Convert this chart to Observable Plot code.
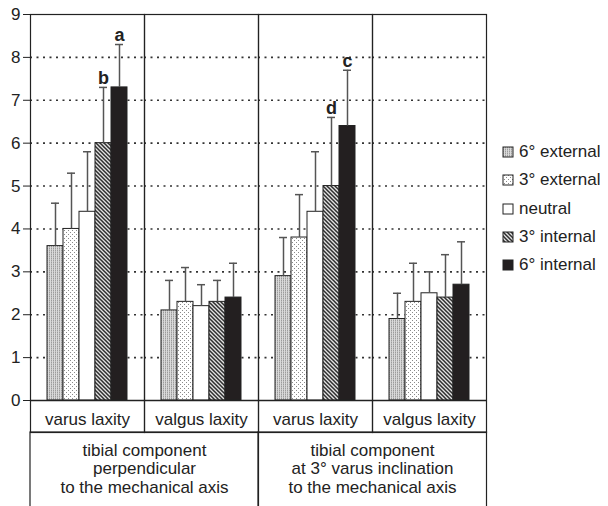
<!DOCTYPE html>
<html>
<head>
<meta charset="utf-8">
<script src="https://cdn.jsdelivr.net/npm/d3@7"></script>
<script src="https://cdn.jsdelivr.net/npm/@observablehq/plot@0.6"></script>
<style>
  body { margin: 0; background: #fff; }
  #wrap { position: relative; width: 608px; height: 506px; overflow: hidden; background: #fff;
          font-family: 'Liberation Sans', Arial, sans-serif; }
  #chart { position: absolute; left: 0; top: 0; }
  #legend { position: absolute; left: 503px; top: 138px; }
</style>
</head>
<body>
<svg width="0" height="0" style="position:absolute">
  <defs>
    <pattern id="pat-ext6" patternUnits="userSpaceOnUse" width="2" height="2">
      <rect width="2" height="2" fill="#dadada"/>
      <rect x="0" y="0" width="1" height="1" fill="#9c9c9c"/>
      <rect x="0" y="1" width="1" height="1" fill="#bcbcbc"/>
    </pattern>
    <pattern id="pat-ext3" patternUnits="userSpaceOnUse" width="4" height="4">
      <rect width="4" height="4" fill="#ffffff"/>
      <rect x="1" y="0" width="1" height="1" fill="#8a8a8a"/>
      <rect x="3" y="2" width="1" height="1" fill="#8a8a8a"/>
    </pattern>
    <pattern id="pat-int3" patternUnits="userSpaceOnUse" width="4" height="4">
      <rect width="4" height="4" fill="#e2e2e2"/>
      <path d="M-1,-1 L5,5 M-1,3 L1,5 M3,-1 L5,1" stroke="#2e2e2e" stroke-width="1.5"/>
    </pattern>
  </defs>
</svg>
<div id="wrap">
  <div id="chart"></div>
  <div id="legend"></div>
</div>
<script>
// ---- data ----
const groups = ["perp-varus", "perp-valgus", "incl-varus", "incl-valgus"];
const groupLabels = ["varus laxity", "valgus laxity", "varus laxity", "valgus laxity"];
const rotations = ["6° external", "3° external", "neutral", "3° internal", "6° internal"];
const rotationFills = ["url(#pat-ext6)", "url(#pat-ext3)", "#ffffff", "url(#pat-int3)", "#231f20"];

const meanPerpVarus   = [3.6, 4.0, 4.4, 6.0, 7.3];
const upperPerpVarus  = [4.6, 5.3, 5.8, 7.3, 8.3];
const meanPerpValgus  = [2.1, 2.3, 2.2, 2.3, 2.4];
const upperPerpValgus = [2.8, 3.1, 2.7, 2.8, 3.2];
const meanInclVarus   = [2.9, 3.8, 4.4, 5.0, 6.4];
const upperInclVarus  = [3.8, 4.8, 5.8, 6.6, 7.7];
const meanInclValgus  = [1.9, 2.3, 2.5, 2.4, 2.7];
const upperInclValgus = [2.5, 3.2, 3.0, 3.4, 3.7];

const yTicks = [0, 1, 2, 3, 4, 5, 6, 7, 8, 9];
const gridTicks = [1, 2, 3, 4, 5, 6, 7, 8];

const letterGroups = ["perp-varus", "perp-varus", "incl-varus", "incl-varus"];
const letterRotations = ["6° internal", "3° internal", "6° internal", "3° internal"];
const letterTexts = ["a", "b", "c", "d"];

const sectionGroups = ["perp-varus", "incl-varus"];
const sectionTexts = [
  "tibial component\nperpendicular\nto the mechanical axis",
  "tibial component\nat 3° varus inclination\nto the mechanical axis"
];

// ---- tables built from the arrays ----
const meansByGroup = [meanPerpVarus, meanPerpValgus, meanInclVarus, meanInclValgus];
const uppersByGroup = [upperPerpVarus, upperPerpValgus, upperInclVarus, upperInclValgus];
const rows = groups.flatMap((g, gi) => rotations.map((r, ri) => ({
  group: g, rot: r, mean: meansByGroup[gi][ri], upper: uppersByGroup[gi][ri]
})));
const letters = letterTexts.map((t, i) => ({
  group: letterGroups[i], rot: letterRotations[i], text: t,
  upper: rows.find(d => d.group === letterGroups[i] && d.rot === letterRotations[i]).upper
}));
const sections = sectionTexts.map((t, i) => ({group: sectionGroups[i], text: t}));

// ---- layout ----
const W = 608, H = 506;
const mL = 29, mR = 121, mT = 14, mB = 106;
const row1 = 32;                      // height of first table row
const facetW = (W - mL - mR) / groups.length;
const ink = "#222";
const font = "'Liberation Sans', Arial, sans-serif";

const chart = Plot.plot({
  width: W, height: H,
  marginLeft: mL, marginRight: mR, marginTop: mT, marginBottom: mB,
  style: {fontFamily: font, fontSize: "17px", color: ink, background: "transparent", overflow: "visible"},
  fx: {domain: groups, padding: 0, label: null, axis: "bottom", tickSize: 0, tickPadding: 12,
       tickFormat: d => groupLabels[groups.indexOf(d)]},
  x: {domain: rotations, axis: null, paddingInner: 0, paddingOuter: 0.95},
  y: {domain: [0, 9], ticks: yTicks, tickSize: 7, tickPadding: 3, label: null},
  color: {type: "ordinal", domain: rotations, range: rotationFills},
  marks: [
    Plot.ruleY(gridTicks, {stroke: "#333", strokeWidth: 1.6, strokeDasharray: "2,4.5"}),
    Plot.barY(rows, {fx: "group", x: "rot", y: "mean", fill: "rot", stroke: ink, strokeWidth: 1}),
    Plot.ruleX(rows, {fx: "group", x: "rot", y1: "mean", y2: "upper", stroke: "#555", strokeWidth: 1.5}),
    Plot.tickY(rows, {fx: "group", x: "rot", y: "upper", stroke: "#555", strokeWidth: 1.5, inset: 4}),
    Plot.text(letters, {fx: "group", x: "rot", y: "upper", text: "text", dy: -9, fontWeight: "bold",
                        fontSize: 18, fill: ink}),
    Plot.ruleY([0], {stroke: ink, strokeWidth: 1.3}),
    Plot.frame({stroke: ink, strokeWidth: 1.2, insetBottom: -row1}),
    Plot.rect(sections, {fx: "group", y1: 0, y2: 0, fill: "none", stroke: ink, strokeWidth: 1.2,
                         insetTop: row1, insetBottom: -(row1 + 90), insetRight: -facetW}),
    Plot.text(sections, {fx: "group", text: "text", frameAnchor: "bottom-right", textAnchor: "middle",
                         lineAnchor: "top", dy: 42, lineHeight: 1.09, fill: ink})
  ]
});
document.getElementById("chart").appendChild(chart);

const legend = Plot.legend({
  color: {type: "ordinal", domain: rotations, range: rotationFills},
  columns: 1, swatchSize: 10,
  style: {fontFamily: font, fontSize: "17px", color: ink, margin: "0"}
});
legend.querySelectorAll("svg").forEach(s => {
  s.style.overflow = "visible";
  s.style.marginRight = "6px";
  const r = s.querySelector("rect");
  if (r) { r.setAttribute("stroke", ink); r.setAttribute("stroke-width", "1"); }
  const item = s.parentNode;
  item.style.height = "28.25px";
  item.style.padding = "0";
  item.style.margin = "0";
});
document.getElementById("legend").appendChild(legend);
</script>
</body>
</html>
